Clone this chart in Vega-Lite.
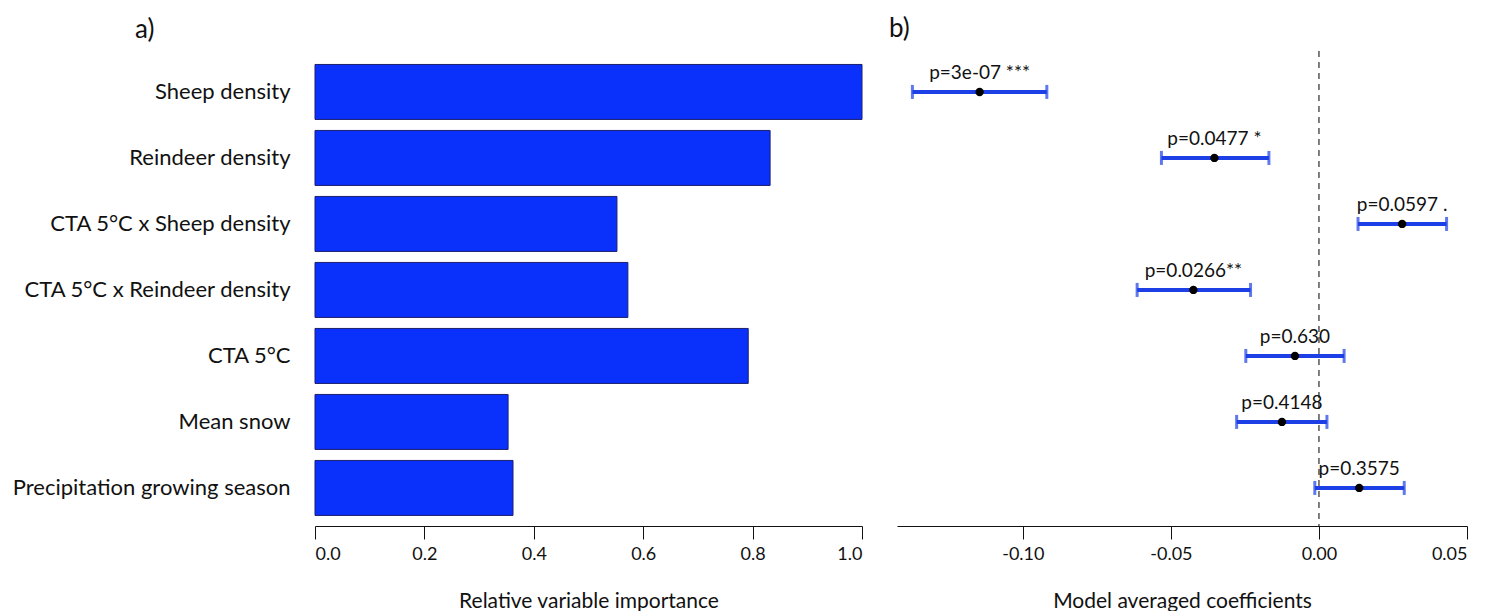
{
  "$schema": "https://vega.github.io/schema/vega-lite/v6.json",
  "background": "white",
  "padding": {"left": 12, "top": 16, "right": 10, "bottom": 0},
  "config": {
    "font": "Lato",
    "view": {"stroke": null},
    "axis": {"labelFont": "Lato", "titleFont": "Lato", "labelColor": "#111", "titleColor": "#111", "domainColor": "#111", "tickColor": "#111", "titleFontWeight": "normal", "grid": false},
    "title": {"font": "Lato", "fontWeight": "normal", "fontSize": 26, "anchor": "start", "frame": "group", "color": "#111"}
  },
  "datasets": {
    "imp": [
      {"variable": "Sheep density", "importance": 1.0},
      {"variable": "Reindeer density", "importance": 0.832},
      {"variable": "CTA 5°C x Sheep density", "importance": 0.552},
      {"variable": "CTA 5°C x Reindeer density", "importance": 0.572},
      {"variable": "CTA 5°C", "importance": 0.792},
      {"variable": "Mean snow", "importance": 0.353},
      {"variable": "Precipitation growing season", "importance": 0.362}
    ],
    "coef": [
      {"variable": "Sheep density", "coef": -0.1146, "lower": -0.1373, "upper": -0.0919, "label": "p=3e-07 ***"},
      {"variable": "Reindeer density", "coef": -0.0353, "lower": -0.0532, "upper": -0.0169, "label": "p=0.0477 *"},
      {"variable": "CTA 5°C x Sheep density", "coef": 0.0281, "lower": 0.0132, "upper": 0.0431, "label": "p=0.0597 ."},
      {"variable": "CTA 5°C x Reindeer density", "coef": -0.0424, "lower": -0.0614, "upper": -0.0231, "label": "p=0.0266**"},
      {"variable": "CTA 5°C", "coef": -0.0081, "lower": -0.0247, "upper": 0.0085, "label": "p=0.630"},
      {"variable": "Mean snow", "coef": -0.0125, "lower": -0.0278, "upper": 0.0027, "label": "p=0.4148"},
      {"variable": "Precipitation growing season", "coef": 0.0136, "lower": -0.0014, "upper": 0.0288, "label": "p=0.3575"}
    ]
  },
  "spacing": 26,
  "hconcat": [
    {
      "width": 547,
      "height": 475,
      "title": {"text": "a)", "dx": -180, "offset": 8},
      "data": {"name": "imp"},
      "mark": {"type": "bar", "color": "#0a30fc", "stroke": "#1b1f6e", "strokeWidth": 1},
      "encoding": {
        "y": {
          "field": "variable", "type": "nominal", "sort": null,
          "scale": {"paddingInner": 0.167, "paddingOuter": 0.182, "align": 0.56},
          "axis": {"title": null, "domain": false, "ticks": false, "labelFontSize": 22, "labelPadding": 25, "labelLimit": 400}
        },
        "x": {
          "field": "importance", "type": "quantitative",
          "scale": {"domain": [0, 1], "nice": false},
          "axis": {"values": [0, 0.2, 0.4, 0.6, 0.8, 1], "format": ".1f", "tickSize": 13, "labelPadding": 6, "labelFontSize": 18, "title": "Relative variable importance", "titleFontSize": 21, "titlePadding": 27}
        }
      }
    },
    {
      "width": 570,
      "height": 475,
      "title": {"text": "b)", "dx": -8, "offset": 8},
      "data": {"name": "coef"},
      "encoding": {
        "y": {
          "field": "variable", "type": "nominal", "sort": null,
          "scale": {"type": "band", "paddingInner": 0.167, "paddingOuter": 0.182, "align": 0.56},
          "axis": null
        }
      },
      "layer": [
        {
          "data": {"values": [{}]},
          "mark": {"type": "rule", "strokeDash": [6, 5], "color": "#555", "strokeWidth": 1.5},
          "encoding": {"x": {"datum": 0, "type": "quantitative"}, "y": null}
        },
        {
          "mark": {"type": "rule", "color": "#1d3fe6", "strokeWidth": 4},
          "encoding": {
            "x": {
              "field": "lower", "type": "quantitative",
              "scale": {"domain": [-0.1425, 0.05], "nice": false, "zero": false},
              "axis": {"values": [-0.1, -0.05, 0, 0.05], "labelExpr": "datum.value < 0 ? '-' + format(-datum.value, '.2f') : format(datum.value, '.2f')", "tickSize": 13, "labelPadding": 6, "labelFontSize": 18, "title": "Model averaged coefficients", "titleFontSize": 21, "titlePadding": 27}
            },
            "x2": {"field": "upper"}
          }
        },
        {
          "mark": {"type": "tick", "color": "#1d3fe6", "size": 14, "thickness": 3},
          "encoding": {"x": {"field": "lower", "type": "quantitative"}}
        },
        {
          "mark": {"type": "tick", "color": "#1d3fe6", "size": 14, "thickness": 3},
          "encoding": {"x": {"field": "upper", "type": "quantitative"}}
        },
        {
          "mark": {"type": "point", "filled": true, "color": "#000", "size": 70, "opacity": 1},
          "encoding": {"x": {"field": "coef", "type": "quantitative"}}
        },
        {
          "mark": {"type": "text", "fontSize": 19, "dy": -13, "baseline": "alphabetic", "color": "#111"},
          "encoding": {"x": {"field": "coef", "type": "quantitative"}, "text": {"field": "label"}}
        }
      ]
    }
  ]
}
